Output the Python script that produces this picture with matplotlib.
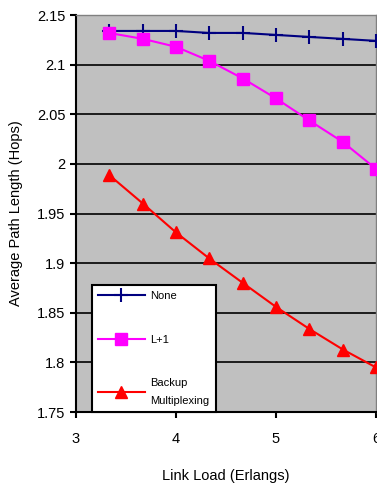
import matplotlib.pyplot as plt

plt.rcParams['font.family'] = ['Liberation Sans', 'DejaVu Sans']

# Data
load = [3.33, 3.67, 4.0, 4.33, 4.67, 5.0, 5.33, 5.67, 6.0]
none = [2.134, 2.134, 2.134, 2.132, 2.132, 2.130, 2.128, 2.126, 2.124]
l_plus_1 = [2.132, 2.126, 2.118, 2.104, 2.086, 2.066, 2.044, 2.022, 1.995]
backup = [1.989, 1.960, 1.931, 1.905, 1.880, 1.856, 1.834, 1.813, 1.795]

fig = plt.figure(figsize=(3.77, 4.86), dpi=100)
ax = fig.add_axes([0.2016, 0.152, 0.7958, 0.817])
ax.set_facecolor('#C0C0C0')

ax.plot(load, none, color='#000080', marker='+', markersize=10, markeredgewidth=1.5,
        linewidth=1.5, label='None', clip_on=False, zorder=3)
ax.plot(load, l_plus_1, color='#FF00FF', marker='s', markersize=9,
        linewidth=1.5, label='L+1', clip_on=False, zorder=3)
ax.plot(load, backup, color='#FF0000', marker='^', markersize=9,
        linewidth=1.5, label='Backup\nMultiplexing', clip_on=False, zorder=3)

ax.set_xlim(3, 6)
ax.set_ylim(1.75, 2.15)
ax.set_xticks([3, 4, 5, 6])
ax.set_yticks([1.75, 1.8, 1.85, 1.9, 1.95, 2, 2.05, 2.1, 2.15])
ax.set_yticklabels(['1.75', '1.8', '1.85', '1.9', '1.95', '2', '2.05', '2.1', '2.15'])
ax.tick_params(labelsize=10.5, direction='out', length=4, width=1.5)
ax.tick_params(axis='x', pad=10)
ax.yaxis.grid(True, color='black', linewidth=1.2)
ax.set_axisbelow(True)

for s in ['left', 'bottom']:
    ax.spines[s].set_color('black')
    ax.spines[s].set_linewidth(1.5)
for s in ['top', 'right']:
    ax.spines[s].set_color('#808080')
    ax.spines[s].set_linewidth(1)

ax.set_xlabel('Link Load (Erlangs)', fontsize=10.5, labelpad=17)
ax.set_ylabel('Average Path Length (Hops)', fontsize=10.5, labelpad=10)

leg = ax.legend(loc='lower left', bbox_to_anchor=(0.053, 0.0, 0.414, 0.322), mode='expand',
                fontsize=8, labelspacing=3.0, handlelength=4.2, handletextpad=0.5,
                borderpad=0.55, fancybox=False, framealpha=1, edgecolor='black',
                borderaxespad=0)
leg.get_frame().set_linewidth(1.5)
for t in leg.get_texts():
    t.set_linespacing(2.0)

plt.savefig('out.png', dpi=100)
